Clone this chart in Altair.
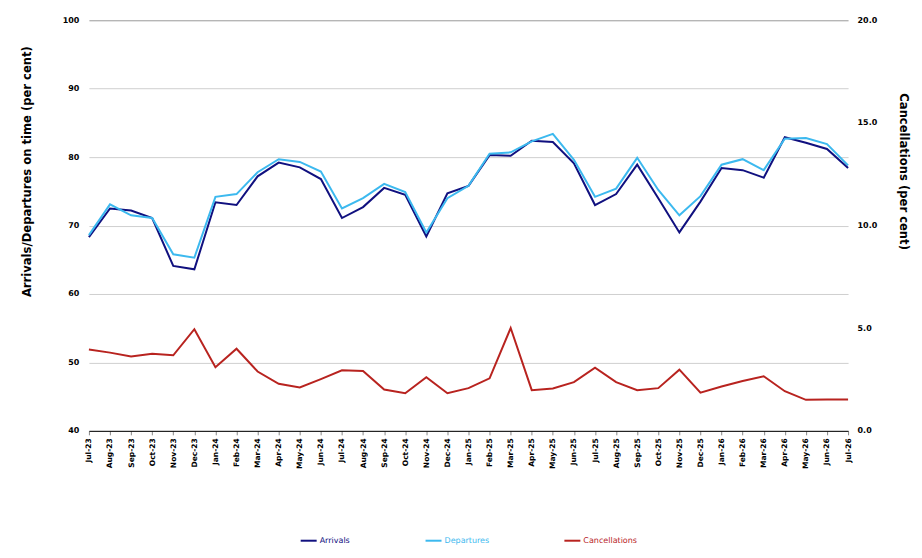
import altair as alt
import pandas as pd

months = [
    "Jul-23", "Aug-23", "Sep-23", "Oct-23", "Nov-23", "Dec-23",
    "Jan-24", "Feb-24", "Mar-24", "Apr-24", "May-24", "Jun-24",
    "Jul-24", "Aug-24", "Sep-24", "Oct-24", "Nov-24", "Dec-24",
    "Jan-25", "Feb-25", "Mar-25", "Apr-25", "May-25", "Jun-25",
    "Jul-25", "Aug-25", "Sep-25", "Oct-25", "Nov-25", "Dec-25",
    "Jan-26", "Feb-26", "Mar-26", "Apr-26", "May-26", "Jun-26", "Jul-26",
]

arrivals = [
    68.3, 72.5, 72.2, 71.1, 64.1, 63.6,
    73.4, 73.0, 77.2, 79.2, 78.5, 76.8,
    71.1, 72.7, 75.5, 74.5, 68.4, 74.7,
    75.8, 80.3, 80.2, 82.4, 82.2, 79.1,
    73.0, 74.6, 78.9, 74.0, 69.0, 73.5,
    78.4, 78.1, 77.0, 82.9, 82.1, 81.2, 78.4,
]

departures = [
    68.6, 73.1, 71.5, 71.1, 65.8, 65.3,
    74.2, 74.6, 77.8, 79.7, 79.3, 77.9,
    72.5, 74.0, 76.1, 74.9, 69.0, 74.0,
    75.8, 80.5, 80.7, 82.3, 83.4, 79.6,
    74.2, 75.4, 79.9, 75.2, 71.5, 74.3,
    78.9, 79.7, 78.1, 82.7, 82.8, 81.9, 78.8,
]

cancellations = [
    3.96, 3.81, 3.62, 3.76, 3.68, 4.95,
    3.10, 4.00, 2.89, 2.29, 2.11, 2.52,
    2.95, 2.92, 2.01, 1.83, 2.61, 1.83,
    2.08, 2.56, 5.01, 1.98, 2.06, 2.37,
    3.08, 2.37, 1.98, 2.08, 2.98, 1.86,
    2.16, 2.43, 2.66, 1.93, 1.51, 1.53, 1.53,
]

series = ["Arrivals", "Departures", "Cancellations"]
colors = ["#10107f", "#3cb9ef", "#b8231f"]

on_time = pd.DataFrame({
    "month": months * 2,
    "value": arrivals + departures,
    "series": ["Arrivals"] * len(months) + ["Departures"] * len(months),
})
cancel = pd.DataFrame({
    "month": months,
    "value": cancellations,
    "series": ["Cancellations"] * len(months),
})

font = "DejaVu Sans"

x = alt.X(
    "month:N", sort=None, title=None,
    scale=alt.Scale(type="point", padding=0),
    axis=alt.Axis(
        labelAngle=270, labelFont=font, labelFontSize=7.5, labelFontWeight="bold",
        labelColor="#000", labelPadding=3, tickColor="#888", tickSize=4,
        domainColor="#000", domainWidth=1, grid=False,
    ),
)

color = alt.Color(
    "series:N",
    scale=alt.Scale(domain=series, range=colors),
    legend=alt.Legend(
        title=None, orient="none", direction="horizontal", legendX=211, legendY=512,
        symbolType="stroke", symbolSize=256, symbolStrokeWidth=2,
        columnPadding=71, labelOffset=2, labelFont=font, labelFontSize=8,
        labelColor=alt.ExprRef(
            "datum.label == 'Arrivals' ? '#10107f' : datum.label == 'Departures' ? '#3cb9ef' : '#b8231f'"
        ),
    ),
)

left = alt.Chart(on_time).mark_line(strokeWidth=2).encode(
    x=x,
    y=alt.Y(
        "value:Q",
        scale=alt.Scale(domain=[40, 100], nice=False),
        axis=alt.Axis(
            title="Arrivals/Departures on time (per cent)", values=list(range(40, 101, 10)),
            titleFont=font, titleFontSize=11.6, titleFontWeight="bold", titleColor="#000",
            titlePadding=30, titleY=151, labelFont=font, labelFontSize=8, labelFontWeight="bold",
            labelColor="#000", labelPadding=10, ticks=False, domain=False,
            gridColor=alt.condition("datum.value == 100", alt.value("#999999"), alt.value("#cfcfcf")),
        ),
    ),
    color=color,
)

right = alt.Chart(cancel).mark_line(strokeWidth=2).encode(
    x=x,
    y=alt.Y(
        "value:Q",
        scale=alt.Scale(domain=[0, 20], nice=False),
        axis=alt.Axis(
            orient="right", title="Cancellations (per cent)", values=[0, 5, 10, 15, 20],
            format=".1f", titleFont=font, titleFontSize=11.6, titleFontWeight="bold",
            titleColor="#000", titlePadding=21, titleY=151, labelFont=font, labelFontSize=8,
            labelFontWeight="bold", labelColor="#000", labelPadding=9,
            ticks=False, domain=False, grid=False,
        ),
    ),
    color=color,
)

chart = alt.layer(left, right).resolve_scale(y="independent").properties(
    width=760, height=411,
    padding={"left": 13, "top": 8, "right": 5, "bottom": 2},
).configure_view(stroke=None)

chart.save("out.html", embed_options={"renderer": "svg", "actions": False})
